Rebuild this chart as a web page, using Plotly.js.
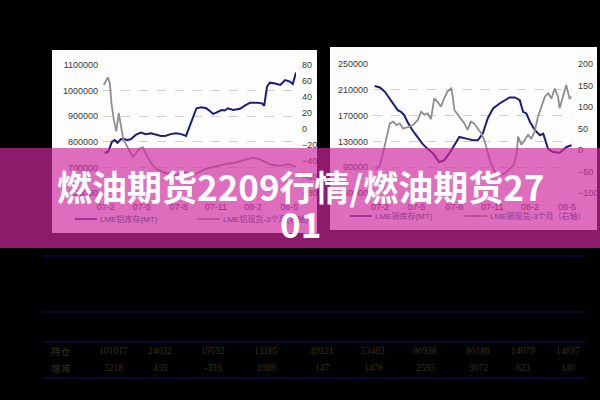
<!DOCTYPE html>
<html><head><meta charset="utf-8">
<script src="https://cdn.plot.ly/plotly-3.0.1.min.js"></script>
<style>html,body{margin:0;padding:0;background:#000;}#c{width:600px;height:400px;}</style>
</head><body><div id="c"></div><script>
// ---------- data ----------
const tickDates = ['2007-02-01','2007-05-01','2007-08-01','2007-11-01','2008-02-01','2008-05-01'];
const tickLabels = ['07-2','07-5','07-8','07-11','08-2','08-5'];

const alStockDates = ['2007-01-29','2007-02-07','2007-02-16','2007-02-23','2007-03-02','2007-03-10','2007-03-18','2007-03-26','2007-04-04','2007-04-16','2007-04-29','2007-05-11','2007-05-24','2007-06-05','2007-06-18','2007-06-30','2007-07-12','2007-07-25','2007-08-07','2007-08-19','2007-09-01','2007-09-14','2007-09-26','2007-10-08','2007-10-16','2007-10-25','2007-11-02','2007-11-15','2007-11-23','2007-12-01','2007-12-14','2007-12-31','2008-01-12','2008-01-25','2008-02-11','2008-02-24','2008-02-29','2008-03-07','2008-03-14','2008-03-27','2008-04-09','2008-04-21','2008-05-03','2008-05-10','2008-05-18'];
const alStock = [756000,761000,800000,807000,796000,810000,811000,807000,810000,827000,836000,830000,833000,827000,823000,824000,830000,833000,830000,823000,879000,931000,935000,931000,922000,909000,914000,924000,922000,931000,924000,929000,941000,953000,953000,950000,940000,1015000,1031000,1028000,1022000,1041000,1035000,1026000,1071000];

const alSpreadDates = ['2007-01-27','2007-02-06','2007-02-11','2007-02-15','2007-02-21','2007-02-27','2007-03-05','2007-03-09','2007-03-16','2007-03-22','2007-03-28','2007-04-09','2007-04-17','2007-04-26','2007-05-04','2007-05-12','2007-05-25','2007-06-07','2007-06-27','2007-07-22','2007-08-16','2007-09-10','2007-10-05','2007-10-30','2007-11-24','2007-12-19','2008-01-13','2008-01-30','2008-02-14','2008-03-02','2008-03-20','2008-04-08','2008-04-28','2008-05-18'];
const alSpread = [55,64.6,57,32,11,-3,20,7,-12,-18,-24,-35,-30,-24,-23,-32,-43,-50,-55,-58,-54,-57,-50,-47,-44,-42,-38,-36,-37,-41,-45,-46,-44,-47];

const cuStockDates = ['2007-01-19','2007-02-01','2007-02-13','2007-02-25','2007-03-08','2007-03-16','2007-03-24','2007-04-01','2007-04-09','2007-04-21','2007-05-03','2007-05-15','2007-05-27','2007-06-09','2007-06-25','2007-07-07','2007-07-19','2007-08-01','2007-08-13','2007-08-30','2007-09-15','2007-09-27','2007-10-09','2007-10-21','2007-11-03','2007-11-19','2007-12-01','2007-12-13','2007-12-26','2008-01-07','2008-01-15','2008-01-23','2008-02-01','2008-02-13','2008-02-25','2008-03-04','2008-03-16','2008-03-28','2008-04-13','2008-04-21','2008-04-30','2008-05-12'];
const cuStock = [215800,213700,206900,196600,186200,178400,175800,170600,160200,147300,136900,126600,118800,112000,98000,100600,111000,124000,136900,134300,131700,131700,142100,165500,181000,188800,194000,198200,198200,194000,175800,173300,160200,147300,139500,142100,118000,113500,112500,116000,121300,124000];

const cuSpreadDates = ['2007-01-22','2007-02-01','2007-02-09','2007-02-17','2007-02-25','2007-03-05','2007-03-13','2007-03-21','2007-03-29','2007-04-10','2007-04-22','2007-05-04','2007-05-12','2007-05-20','2007-05-28','2007-06-05','2007-06-13','2007-06-21','2007-06-29','2007-07-07','2007-07-15','2007-07-24','2007-07-28','2007-08-01','2007-08-09','2007-08-17','2007-08-25','2007-09-02','2007-09-10','2007-09-18','2007-09-26','2007-10-05','2007-10-13','2007-10-21','2007-10-28','2007-11-07','2007-11-19','2007-12-01','2007-12-13','2007-12-23','2007-12-30','2008-01-03','2008-01-11','2008-01-19','2008-01-27','2008-02-04','2008-02-12','2008-02-20','2008-02-29','2008-03-08','2008-03-16','2008-03-24','2008-04-01','2008-04-09','2008-04-13','2008-04-21','2008-04-29','2008-05-07','2008-05-12'];
const cuSpread = [-45,-35,-4,31,62,66,58,62,50,53,58,70,89,82,85,72,120,112,101,120,136,143,124,93,82,70,62,47,66,62,51,39,23,-4,-30,-50,-58,-55,-45,-35,-12,31,12,23,35,27,42,77,101,124,132,120,143,124,97,124,151,120,124];

const legendLabels = ['LME铝库存(MT)','LME铝现货-3个月(右轴)','LME铜库存(MT)','LME铜现货-3个月（右轴）'];
const titleLines = ['燃油期货2209行情/燃油期货27','01'];

const tableRowLabels = ['持仓','增减'];
const holdings = [101017,24632,19592,13185,49121,53403,86938,86180,14079,14837];
const changes = [3218,459,-393,1989,147,1476,2595,3072,623,146];

// ---------- layout helpers (pixel -> paper) ----------
const W = 600, H = 400;
const px = v => v / W;
const py = v => 1 - v / H;
const colX = [113,160,213,266,322,373,425,478,523,568];

const navy = '#1c1c7c', gray = '#8e8e8e';
const tickFont = {family:'Liberation Sans, Arial, sans-serif', size:9, color:'#3a3a3a'};

const traces = [
  {x: alStockDates, y: alStock, xaxis:'x', yaxis:'y', mode:'lines', line:{color:navy, width:2}, hoverinfo:'skip'},
  {x: alSpreadDates, y: alSpread, xaxis:'x', yaxis:'y2', mode:'lines', line:{color:gray, width:1.8}, hoverinfo:'skip'},
  {x: cuStockDates, y: cuStock, xaxis:'x2', yaxis:'y3', mode:'lines', line:{color:navy, width:2}, hoverinfo:'skip'},
  {x: cuSpreadDates, y: cuSpread, xaxis:'x2', yaxis:'y4', mode:'lines', line:{color:gray, width:1.8}, hoverinfo:'skip'}
];

const xCommon = {type:'date', tickmode:'array', tickvals: tickDates, ticktext: tickLabels, showgrid:false, zeroline:false, showline:false, ticks:'', tickfont: tickFont, ticklabelstandoff:7};
const yGrid = {showgrid:true, gridcolor:'#c4c4c4', griddash:'dash', gridwidth:0.8, zeroline:false, showline:false, ticks:'', tickfont: tickFont, tickformat:'d', ticklabelstandoff:4};

const layout = {
  width: W, height: H,
  margin:{l:0,r:0,t:0,b:0},
  paper_bgcolor:'#000', plot_bgcolor:'rgba(0,0,0,0)',
  showlegend:false,
  xaxis: Object.assign({}, xCommon, {domain:[px(103), px(296)], anchor:'y', range:['2007-01-25','2008-05-18']}),
  yaxis: Object.assign({}, yGrid, {domain:[py(193), py(65)], anchor:'x', range:[600000,1100000], dtick:100000, tick0:0}),
  yaxis2: {overlaying:'y', side:'right', anchor:'x', range:[-80,80], dtick:20, tick0:0, showgrid:false, zeroline:false, showline:false, ticks:'', tickfont: tickFont, ticklabelstandoff:5},
  xaxis2: Object.assign({}, xCommon, {domain:[px(373), px(572)], anchor:'y3', range:['2007-01-15','2008-05-13']}),
  yaxis3: Object.assign({}, yGrid, {domain:[py(193), py(64)], anchor:'x2', range:[50000,250000], dtick:40000, tick0:50000}),
  yaxis4: {overlaying:'y3', side:'right', anchor:'x2', range:[-100,200], dtick:50, tick0:0, showgrid:false, zeroline:false, showline:false, ticks:'', tickfont: tickFont, ticklabelstandoff:5},
  shapes: [], annotations: []
};

// panels
layout.shapes.push({type:'rect', xref:'paper', yref:'paper', x0:px(52), x1:px(317), y0:py(233), y1:py(50), fillcolor:'#fdfdfd', line:{width:0}, layer:'below'});
layout.shapes.push({type:'rect', xref:'paper', yref:'paper', x0:px(330), x1:px(597), y0:py(230), y1:py(47), fillcolor:'#fdfdfd', line:{width:0}, layer:'below'});
// table lines
[256,312,342,378].forEach(y => layout.shapes.push({type:'line', xref:'paper', yref:'paper', x0:px(43), x1:px(586), y0:py(y), y1:py(y), line:{color:'#0a0a44', width:1.3}, layer:'below'}));

// legends (lines + text)
const legendItems = [
  {x0:75, x1:97, y:219, color:navy, label:legendLabels[0]},
  {x0:197, x1:220, y:219, color:gray, label:legendLabels[1]},
  {x0:350, x1:372, y:216, color:navy, label:legendLabels[2]},
  {x0:465, x1:487, y:216, color:gray, label:legendLabels[3]}
];
legendItems.forEach(it => {
  layout.shapes.push({type:'line', xref:'paper', yref:'paper', x0:px(it.x0), x1:px(it.x1), y0:py(it.y), y1:py(it.y), line:{color:it.color, width:1.6}, layer:'above'});
  layout.annotations.push({xref:'paper', yref:'paper', x:px(it.x1+1), y:py(it.y), xanchor:'left', yanchor:'middle', showarrow:false, text:it.label, font:{family:'Liberation Sans, Noto Sans CJK SC, sans-serif', size:8, color:'#8a3a8e'}});
});

// banner overlay
layout.shapes.push({type:'rect', xref:'paper', yref:'paper', x0:0, x1:1, y0:py(248), y1:py(148), fillcolor:'rgba(206,40,159,0.68)', line:{width:0}, layer:'above'});

// title
layout.annotations.push({xref:'paper', yref:'paper', x:0.5, y:py(185), xanchor:'center', yanchor:'middle', showarrow:false, text:'<b>'+titleLines[0]+'</b>', font:{family:'Noto Sans CJK SC, sans-serif', size:35, color:'#ffffff'}});
layout.annotations.push({xref:'paper', yref:'paper', x:0.5, y:py(222), xanchor:'center', yanchor:'middle', showarrow:false, text:'<b>'+titleLines[1]+'</b>', font:{family:'Noto Sans CJK SC, sans-serif', size:35, color:'#ffffff'}});

// table text
const tFont = {family:'Liberation Serif, serif', size:9.5, color:'#35331a'};
const tFontCJK = {family:'Noto Sans CJK SC, serif', size:9.5, color:'#35331a'};
[holdings, changes].forEach((row, r) => {
  const y = r === 0 ? 351 : 368;
  layout.annotations.push({xref:'paper', yref:'paper', x:px(61), y:py(y), xanchor:'center', yanchor:'middle', showarrow:false, text:tableRowLabels[r], font:tFontCJK});
  row.forEach((v, i) => layout.annotations.push({xref:'paper', yref:'paper', x:px(colX[i]), y:py(y), xanchor:'center', yanchor:'middle', showarrow:false, text:String(v), font:tFont}));
});

Plotly.newPlot('c', traces, layout, {staticPlot:true, displayModeBar:false});
</script></body></html>
